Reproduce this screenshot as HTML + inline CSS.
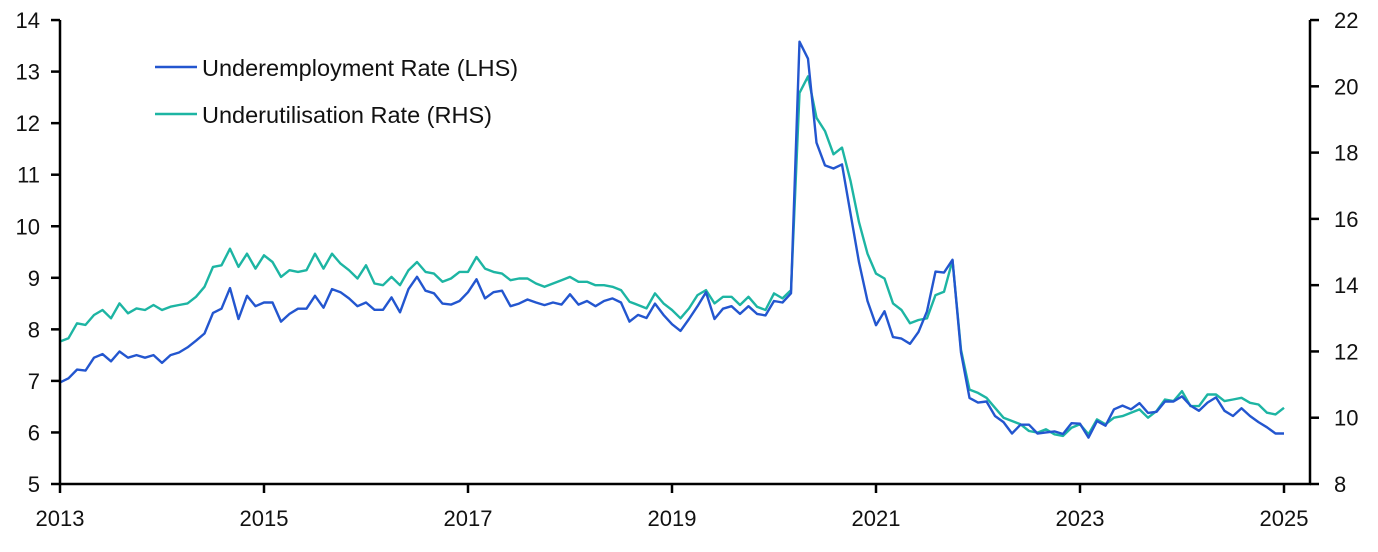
<!DOCTYPE html><html><head><meta charset="utf-8"><style>
html,body{margin:0;padding:0;background:#fff;width:1378px;height:552px;overflow:hidden}
text{font-family:"Liberation Sans",sans-serif;font-size:22px;fill:#111}
</style></head><body>
<svg id="s" width="1378" height="552" xmlns="http://www.w3.org/2000/svg"></svg>
<script>
var u=[6.97,7.05,7.22,7.2,7.45,7.52,7.38,7.57,7.45,7.5,7.45,7.5,
7.35,7.5,7.55,7.65,7.78,7.92,8.32,8.4,8.8,8.2,8.65,8.45,
8.52,8.52,8.15,8.3,8.4,8.4,8.65,8.42,8.78,8.72,8.6,8.45,
8.52,8.38,8.38,8.62,8.33,8.78,9.02,8.75,8.7,8.5,8.48,8.55,
8.72,8.97,8.6,8.72,8.75,8.45,8.5,8.58,8.52,8.47,8.52,8.48,
8.68,8.48,8.55,8.45,8.55,8.6,8.52,8.15,8.28,8.22,8.5,8.28,
8.1,7.97,8.2,8.45,8.72,8.2,8.4,8.45,8.3,8.45,8.3,8.27,
8.55,8.52,8.7,13.58,13.25,11.62,11.18,11.12,11.2,10.25,9.3,8.55,
8.08,8.35,7.85,7.82,7.72,7.95,8.35,9.12,9.1,9.35,7.55,6.67,
6.58,6.6,6.32,6.2,5.98,6.15,6.15,5.98,6.0,6.02,5.97,6.18,
6.17,5.9,6.22,6.13,6.45,6.52,6.45,6.57,6.38,6.4,6.6,6.6,
6.7,6.52,6.42,6.58,6.68,6.42,6.32,6.47,6.32,6.2,6.1,5.98,5.98];
var r=[12.3,12.4,12.85,12.8,13.1,13.25,13.0,13.45,13.15,13.3,13.25,13.4,
13.25,13.35,13.4,13.45,13.65,13.95,14.55,14.6,15.1,14.55,14.95,14.5,
14.9,14.7,14.25,14.45,14.4,14.45,14.95,14.5,14.95,14.65,14.45,14.2,
14.6,14.05,14.0,14.25,14.0,14.45,14.7,14.4,14.35,14.1,14.2,14.4,
14.4,14.85,14.5,14.4,14.35,14.15,14.2,14.2,14.05,13.95,14.05,14.15,
14.25,14.1,14.1,14.0,14.0,13.95,13.85,13.5,13.4,13.3,13.75,13.45,
13.25,13.0,13.3,13.7,13.85,13.45,13.65,13.65,13.4,13.65,13.35,13.25,
13.75,13.6,13.85,19.8,20.3,19.05,18.65,17.95,18.15,17.15,15.9,14.95,
14.35,14.2,13.45,13.25,12.85,12.95,13.0,13.7,13.8,14.75,12.05,10.85,
10.75,10.6,10.3,10.0,9.9,9.8,9.6,9.55,9.65,9.5,9.45,9.7,
9.8,9.5,9.95,9.8,10.0,10.05,10.15,10.25,10.0,10.2,10.55,10.5,
10.8,10.35,10.35,10.7,10.7,10.5,10.55,10.6,10.45,10.4,10.15,10.1,10.3];
var X0=60,XW=(1284-60)/144;
function yl(v){return 484-(v-5)*51.55}
function yr(v){return 484-(v-8)*33.14}
var h='';
function pts(a,f){return a.map(function(v,i){return (X0+i*XW).toFixed(1)+','+f(v).toFixed(1)}).join(' ')}
h+='<polyline points="'+pts(r,yr)+'" fill="none" stroke="#1db5a3" stroke-width="2.4" stroke-linejoin="round"/>';
h+='<polyline points="'+pts(u,yl)+'" fill="none" stroke="#2356cf" stroke-width="2.4" stroke-linejoin="round"/>';
h+='<g stroke="#000" stroke-width="2.5" fill="none"><line x1="60" y1="20" x2="60" y2="485"/><line x1="1310" y1="20" x2="1310" y2="485"/><line x1="59" y1="484" x2="1311" y2="484"/>';
for(var v=5;v<=14;v++)h+='<line x1="51" x2="60" y1="'+yl(v)+'" y2="'+yl(v)+'"/>';
for(var v=8;v<=22;v+=2)h+='<line x1="1310" x2="1319" y1="'+yr(v)+'" y2="'+yr(v)+'"/>';
for(var y=2013;y<=2025;y++){var x=X0+(y-2013)*12*XW;h+='<line x1="'+x+'" x2="'+x+'" y1="484" y2="'+(y%2?493:484)+'"/>';}
h+='</g>';
for(var v=5;v<=14;v++)h+='<text x="40" y="'+(yl(v)+8)+'" text-anchor="end">'+v+'</text>';
for(var v=8;v<=22;v+=2)h+='<text x="1334" y="'+(yr(v)+8)+'">'+v+'</text>';
for(var y=2013;y<=2025;y+=2){var x=X0+(y-2013)*12*XW;h+='<text x="'+x+'" y="526" text-anchor="middle">'+y+'</text>';}
h+='<line x1="155" x2="197" y1="67" y2="67" stroke="#2356cf" stroke-width="2.5"/><text x="202" y="76" style="font-size:23.5px">Underemployment Rate (LHS)</text>';
h+='<line x1="155" x2="197" y1="114" y2="114" stroke="#1db5a3" stroke-width="2.5"/><text x="202" y="123" style="font-size:23.5px">Underutilisation Rate (RHS)</text>';
document.getElementById('s').innerHTML=h;
</script></body></html>
